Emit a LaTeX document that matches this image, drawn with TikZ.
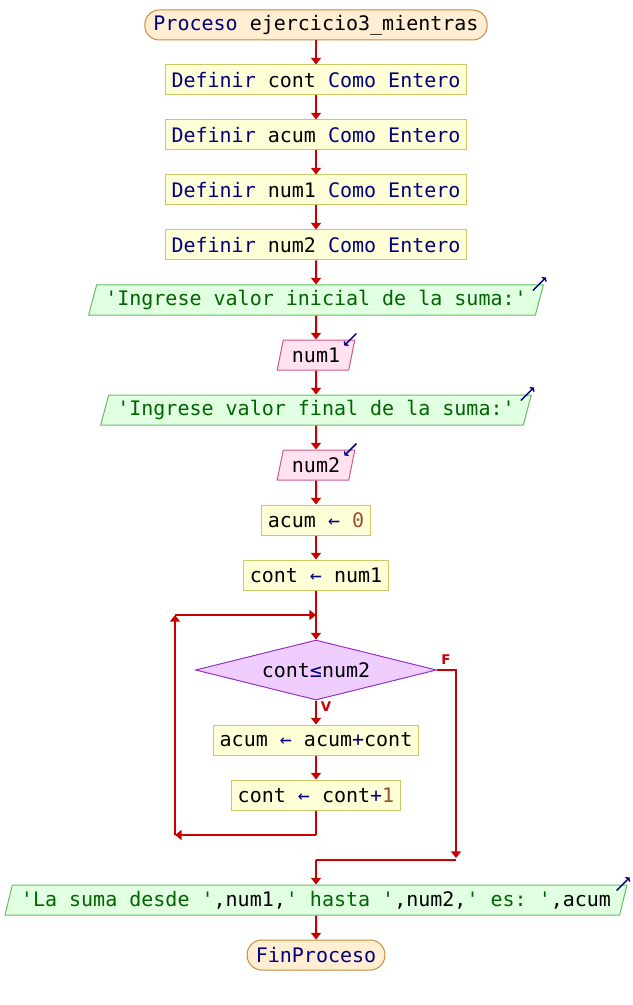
\documentclass[tikz,border=0pt]{standalone}
\usepackage{fontspec}
\setmonofont{DejaVu Sans Mono}
\setsansfont{DejaVu Sans}
\usetikzlibrary{shapes.geometric,arrows.meta}
\definecolor{kwblue}{RGB}{0,0,128}
\definecolor{strgreen}{RGB}{0,100,0}
\definecolor{numbrown}{RGB}{150,80,40}
\definecolor{flowred}{RGB}{200,0,0}
\definecolor{termfill}{RGB}{255,238,210}
\definecolor{termdraw}{RGB}{200,140,60}
\definecolor{asgfill}{RGB}{255,255,215}
\definecolor{asgdraw}{RGB}{200,200,100}
\definecolor{outfill}{RGB}{225,255,225}
\definecolor{outdraw}{RGB}{100,190,100}
\definecolor{infill}{RGB}{255,225,240}
\definecolor{indraw}{RGB}{200,90,140}
\definecolor{condfill}{RGB}{240,205,255}
\definecolor{conddraw}{RGB}{150,50,200}
\newcommand{\kwd}[1]{\textcolor{kwblue}{#1}}
\newcommand{\strg}[1]{\textcolor{strgreen}{#1}}
\newcommand{\numb}[1]{\textcolor{numbrown}{#1}}
\begin{document}
\begin{tikzpicture}[
	x = 0.75pt, y = -0.75pt,
	box/.style = {font = \ttfamily\fontsize{15}{18}\selectfont, minimum height = 22.5pt, inner xsep = 4.5pt, inner ysep = 0pt, line width = 0.75pt},
	terminal/.style = {box, draw = termdraw, fill = termfill, rounded corners = 11pt, inner xsep = 6.5pt},
	assign/.style = {box, draw = asgdraw, fill = asgfill},
	slanted/.style = {box, trapezium, trapezium stretches = true, trapezium left angle = 68, trapezium right angle = 112, inner xsep = 6.5pt},
	outbox/.style = {slanted, draw = outdraw, fill = outfill},
	inbox/.style = {slanted, draw = indraw, fill = infill},
	cond/.style = {box, diamond, aspect = 4, inner sep = 0pt, minimum width = 180.75pt, minimum height = 45pt, draw = conddraw, fill = condfill},
	branch/.style = {font = \sffamily\bfseries\fontsize{10}{11}\selectfont, text = flowred, inner sep = 0pt},
	flow/.style = {draw = flowred, line width = 1.5pt, -{Triangle[length = 5pt, width = 7.5pt]}},
	line/.style = {draw = flowred, line width = 1.5pt},
	icon/.style = {draw = kwblue, line width = 1.1pt, -{To[length = 2.5pt, width = 5pt]}}
]
	\useasboundingbox ( 0, 0 ) rectangle ( 632, 1005 );
	\node [terminal] (start) at ( 316, 25 ) {\kwd{Proceso} ejercicio3\_mientras};
	\node [assign] (def1) at ( 316, 80 ) {\kwd{Definir} cont \kwd{Como Entero}};
	\node [assign] (def2) at ( 316, 135 ) {\kwd{Definir} acum \kwd{Como Entero}};
	\node [assign] (def3) at ( 316, 190 ) {\kwd{Definir} num1 \kwd{Como Entero}};
	\node [assign] (def4) at ( 316, 245 ) {\kwd{Definir} num2 \kwd{Como Entero}};
	\node [outbox] (out1) at ( 316, 300 ) {\strg{'Ingrese valor inicial de la suma:'}};
	\node [inbox] (in1) at ( 316, 355 ) {num1};
	\node [outbox] (out2) at ( 316, 410 ) {\strg{'Ingrese valor final de la suma:'}};
	\node [inbox] (in2) at ( 316, 465 ) {num2};
	\node [assign] (set1) at ( 316, 520 ) {acum \kwd{←} \numb{0}};
	\node [assign] (set2) at ( 316, 575 ) {cont \kwd{←} num1};
	\node [cond] (test) at ( 316, 670 ) {cont\kwd{≤}num2};
	\node [assign] (body1) at ( 316, 740 ) {acum \kwd{←} acum\kwd{+}cont};
	\node [assign] (body2) at ( 316, 795 ) {cont \kwd{←} cont\kwd{+}\numb{1}};
	\node [outbox] (out3) at ( 316, 900 ) {\strg{'La suma desde '},num1,\strg{' hasta '},num2,\strg{' es: '},acum};
	\node [terminal] (stop) at ( 316, 955 ) {\kwd{FinProceso}};
	\node [branch] (lblF) at ( 446, 660 ) {F};
	\node [branch] (lblV) at ( 326, 707 ) {V};
	\coordinate (loopR) at ( 316, 835 );
	\coordinate (loopBL) at ( 175, 835 );
	\coordinate (loopTL) at ( 175, 615 );
	\coordinate (loopIn) at ( 316, 615 );
	\coordinate (exitR) at ( 456, 670 );
	\coordinate (exitB) at ( 456, 858 );
	\coordinate (joinR) at ( 456, 860 );
	\coordinate (join) at ( 316, 860 );
	\draw [flow] (start) -- (def1);
	\draw [flow] (def1) -- (def2);
	\draw [flow] (def2) -- (def3);
	\draw [flow] (def3) -- (def4);
	\draw [flow] (def4) -- (out1);
	\draw [flow] (out1) -- (in1);
	\draw [flow] (in1) -- (out2);
	\draw [flow] (out2) -- (in2);
	\draw [flow] (in2) -- (set1);
	\draw [flow] (set1) -- (set2);
	\draw [flow] (set2) -- (test);
	\draw [flow] (test) -- (body1);
	\draw [flow] (body1) -- (body2);
	\draw [line] (body2) -- (loopR);
	\draw [flow] (loopR) -- (loopBL);
	\draw [flow] (loopBL) -- (loopTL);
	\draw [flow] (loopTL) -- (loopIn);
	\draw [flow] (test.east) -- (exitR) -- (exitB);
	\draw [line] (joinR) -- (join);
	\draw [flow] (join) -- (out3);
	\draw [flow] (out3) -- (stop);
	\draw [icon] ([shift = {( -11, 6 )}] out1.top right corner) -- ++( 13, -13 );
	\draw [icon] ([shift = {( -11, 6 )}] out2.top right corner) -- ++( 13, -13 );
	\draw [icon] ([shift = {( -11, 6 )}] out3.top right corner) -- ++( 13, -13 );
	\draw [icon] ([shift = {( 1, -6 )}] in1.top right corner) -- ++( -12, 12 );
	\draw [icon] ([shift = {( 1, -6 )}] in2.top right corner) -- ++( -12, 12 );
\end{tikzpicture}
\end{document}
